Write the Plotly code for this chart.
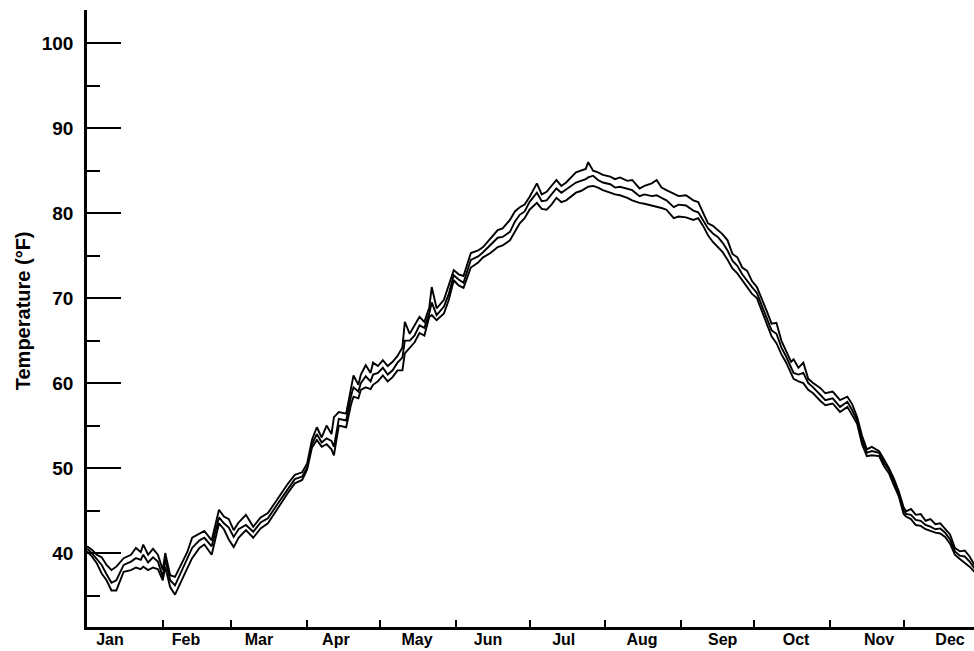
import plotly.graph_objects as go

# ---------------- data ----------------
days = [0, 2, 4, 6, 8, 10, 12, 15, 18, 20, 22, 23, 25, 27, 29, 31, 32, 34, 36, 38,
        41, 43, 46, 48, 51, 54, 56, 58, 60, 62, 65, 68, 71, 74, 78, 82, 85, 88, 90,
        92, 94, 96, 98, 100, 101, 103, 106, 108, 109, 111, 112, 114, 116, 117, 119,
        121, 123, 125, 127, 129, 130, 132, 134, 136, 138, 140, 141, 143, 146, 148,
        150, 152, 154, 157, 160, 162, 165, 168, 170, 173, 175, 177, 179, 181, 184,
        186, 188, 190, 192, 194, 196, 198, 200, 202, 204, 205, 207, 209, 211, 214,
        216, 218, 221, 223, 226, 228, 231, 233, 235, 237, 240, 242, 245, 248, 250,
        252, 254, 256, 258, 260, 262, 264, 266, 268, 270, 272, 274, 276, 278, 280,
        282, 284, 286, 288, 289, 291, 293, 295, 297, 300, 302, 305, 308, 311, 313,
        315, 317, 319, 321, 324, 326, 328, 330, 332, 334, 335, 337, 339, 341, 343,
        345, 347, 349, 351, 353, 355, 357, 359, 361, 363]

temp_high = [40.8, 40.4, 39.8, 39.5, 38.6, 38.0, 38.4, 39.4, 39.8, 40.6, 40.1, 41.0, 39.8, 40.5, 39.8, 38.0, 40.0, 37.4, 37.2, 38.4,
             40.1, 41.8, 42.3, 42.6, 41.5, 45.1, 44.3, 44.0, 42.7, 43.6, 44.5, 43.1, 44.2, 44.7, 46.4, 48.1, 49.2, 49.5, 50.5,
             53.3, 54.8, 53.6, 55.0, 54.0, 56.0, 56.6, 56.4, 59.5, 60.9, 59.8, 61.0, 62.1, 61.2, 62.4, 62.0,
             62.7, 62.0, 62.5, 63.2, 64.2, 67.2, 65.8, 66.8, 67.8, 67.2, 68.9, 71.3, 68.8, 69.8, 71.5,
             73.3, 72.8, 72.6, 75.3, 75.6, 76.0, 77.0, 78.0, 78.2, 79.2, 80.2, 80.7, 81.0, 81.9, 83.5,
             82.2, 82.5, 83.2, 83.9, 83.2, 83.6, 84.2, 84.8, 85.0, 85.2, 86.0, 85.0, 84.8, 84.5, 84.3,
             84.0, 84.2, 83.8, 83.9, 82.9, 83.2, 83.5, 83.9, 83.0, 82.7, 82.3, 82.0, 82.1, 81.5, 81.3,
             80.0, 78.8, 78.5, 78.0, 77.5, 76.8, 75.2, 74.8, 73.6, 73.2, 72.0, 71.3, 70.0, 68.5, 67.0,
             67.1, 65.0, 63.8, 62.5, 62.8, 61.8, 62.4, 60.5, 60.0, 59.4, 58.8, 59.0, 58.0, 58.4, 57.5,
             56.0, 53.8, 52.2, 52.5, 52.0, 51.0, 50.0, 48.8, 47.3, 45.4, 44.9, 45.2, 44.5, 44.6, 43.8,
             44.0, 43.4, 43.5, 42.8, 42.2, 40.6, 40.2, 40.3, 39.6, 38.6]

temp_mid = [40.5, 40.0, 39.3, 38.6, 37.5, 36.5, 36.8, 38.6, 39.0, 39.4, 39.2, 39.8, 38.9, 39.5, 39.0, 37.2, 39.3, 36.8, 36.2, 37.4,
            39.2, 40.6, 41.5, 41.8, 40.8, 44.2, 43.5, 43.0, 41.9, 42.8, 43.3, 42.5, 43.6, 44.1, 45.8, 47.5, 48.7, 49.0, 50.0,
            52.8, 54.0, 53.0, 53.5, 53.2, 52.5, 55.8, 55.6, 58.5, 59.5, 59.0, 60.0, 60.8, 60.2, 61.0, 61.2,
            61.8, 61.0, 61.5, 62.4, 63.0, 65.0, 65.0, 65.6, 66.8, 66.5, 68.2, 69.5, 68.0, 69.0, 70.5,
            72.7, 72.2, 71.8, 74.5, 74.9, 75.4, 76.2, 77.1, 77.2, 77.8, 79.0, 79.8, 80.2, 81.3, 82.4,
            81.4, 81.5, 82.2, 82.9, 82.4, 82.8, 83.2, 83.6, 83.8, 84.0, 84.2, 84.4, 83.9, 83.6, 83.4,
            83.0, 83.1, 82.9, 82.7, 82.0, 82.2, 82.0, 82.1, 81.8, 81.5, 80.7, 81.0, 80.9, 80.3, 80.1,
            79.2, 78.2, 77.6, 77.2, 76.5, 75.6, 74.4, 73.8, 72.8, 72.0, 71.3, 70.6, 69.2, 67.8, 66.2,
            65.8, 64.2, 63.1, 61.8, 61.2, 61.0, 61.2, 60.0, 59.5, 58.6, 58.0, 58.2, 57.2, 57.8, 56.8,
            55.6, 53.3, 51.8, 52.0, 51.8, 50.6, 49.8, 48.4, 47.0, 45.0, 44.6, 44.5, 43.9, 43.8, 43.3,
            43.1, 42.8, 42.9, 42.4, 41.6, 40.2, 39.7, 39.6, 39.0, 38.2]

temp_low = [40.2, 39.6, 38.8, 37.6, 36.8, 35.6, 35.6, 37.8, 38.0, 38.3, 38.1, 38.4, 38.0, 38.3, 38.1, 36.8, 38.4, 36.0, 35.1, 36.4,
            38.2, 39.4, 40.6, 41.0, 39.8, 43.5, 42.8, 41.6, 40.7, 41.8, 42.7, 41.8, 42.9, 43.5, 45.3, 47.0, 48.2, 48.6, 49.8,
            52.4, 53.3, 52.5, 52.8, 52.2, 51.5, 55.0, 54.8, 57.5, 58.4, 58.2, 59.2, 59.5, 59.3, 59.8, 60.2,
            60.9, 60.2, 60.7, 61.5, 61.5, 63.5, 64.2, 64.8, 65.9, 65.6, 67.8, 68.0, 67.4, 68.2, 69.8,
            72.1, 71.5, 71.2, 73.6, 74.2, 74.8, 75.3, 76.0, 76.2, 76.8, 77.8, 78.8, 79.4, 80.4, 81.2,
            80.5, 80.4, 81.0, 81.8, 81.3, 81.5, 82.0, 82.4, 82.6, 82.9, 83.1, 83.2, 83.0, 82.7, 82.4,
            82.2, 82.1, 81.8, 81.5, 81.2, 81.1, 80.9, 80.7, 80.6, 80.4, 79.4, 79.6, 79.5, 79.2, 79.4,
            78.5, 77.4, 76.6, 76.0, 75.4, 74.5, 73.5, 72.9, 72.1, 71.2, 70.5, 70.0, 68.5, 67.0, 65.5,
            64.7, 63.4, 62.4, 61.0, 60.5, 60.2, 60.0, 59.2, 58.8, 57.9, 57.4, 57.6, 56.6, 57.2, 56.2,
            55.2, 52.8, 51.4, 51.5, 51.4, 50.2, 49.4, 48.0, 46.7, 44.6, 44.3, 44.0, 43.3, 43.2, 42.8,
            42.6, 42.4, 42.3, 41.9, 41.1, 39.8, 39.3, 38.9, 38.4, 37.8]

month_names = ["Jan", "Feb", "Mar", "Apr", "May", "Jun",
               "Jul", "Aug", "Sep", "Oct", "Nov", "Dec"]
month_starts = [0, 31, 59, 90, 120, 151, 181, 212, 243, 273, 304, 334]
month_label_pos = [9.4, 40.5, 70.3, 101.8, 135, 164, 195, 227, 260, 290, 324, 353]

major_y = [40, 50, 60, 70, 80, 90, 100]
minor_y = [35, 45, 55, 65, 75, 85, 95]

# ---------------- figure ----------------
fig = go.Figure()
for series in (temp_high, temp_mid, temp_low):
    fig.add_trace(go.Scatter(x=days, y=series, mode="lines",
                             line=dict(color="black", width=1.9),
                             showlegend=False, hoverinfo="skip"))

tickfont = dict(family="Liberation Sans, Arial, sans-serif", size=19,
                color="black", weight="bold")
monthfont = dict(family="Liberation Sans, Arial, sans-serif", size=16,
                 color="black", weight="bold")

fig.update_layout(
    width=974, height=651,
    margin=dict(l=87, r=0, t=10, b=24),
    paper_bgcolor="white", plot_bgcolor="white",
    xaxis=dict(range=[0, 362.8], tickvals=month_starts, showticklabels=False,
               ticks="inside", ticklen=7, tickwidth=1.5, tickcolor="black",
               showline=True, linecolor="black", linewidth=2.5,
               showgrid=False, zeroline=False, automargin=False),
    xaxis2=dict(range=[0, 362.8], overlaying="x", side="bottom", anchor="y",
                tickvals=month_label_pos, ticktext=month_names, ticks="",
                tickfont=monthfont, showline=False, showgrid=False,
                zeroline=False, ticklabelstandoff=1, automargin=False),
    yaxis=dict(range=[31.3, 103.9], tickvals=major_y,
               ticktext=[str(v) for v in major_y],
               ticks="inside", ticklen=34, tickwidth=2, tickcolor="black",
               tickfont=tickfont, ticklabelstandoff=7, automargin=False,
               minor=dict(tickvals=minor_y, ticks="inside", ticklen=13,
                          tickwidth=2, tickcolor="black", showgrid=False),
               showline=True, linecolor="black", linewidth=2.5,
               showgrid=False, zeroline=False),
    annotations=[dict(text="Temperature (°F)", textangle=-90,
                      xref="paper", yref="paper", x=-0.072, y=0.512,
                      xanchor="center", yanchor="middle", showarrow=False,
                      font=dict(family="Liberation Sans, Arial, sans-serif",
                                size=20, color="black", weight="bold"))],
)
# empty trace on xaxis2 so that the month-label axis is drawn
fig.add_trace(go.Scatter(x=[0], y=[None], xaxis="x2", yaxis="y",
                         mode="lines", showlegend=False, hoverinfo="skip"))

fig.write_html("out.html")
